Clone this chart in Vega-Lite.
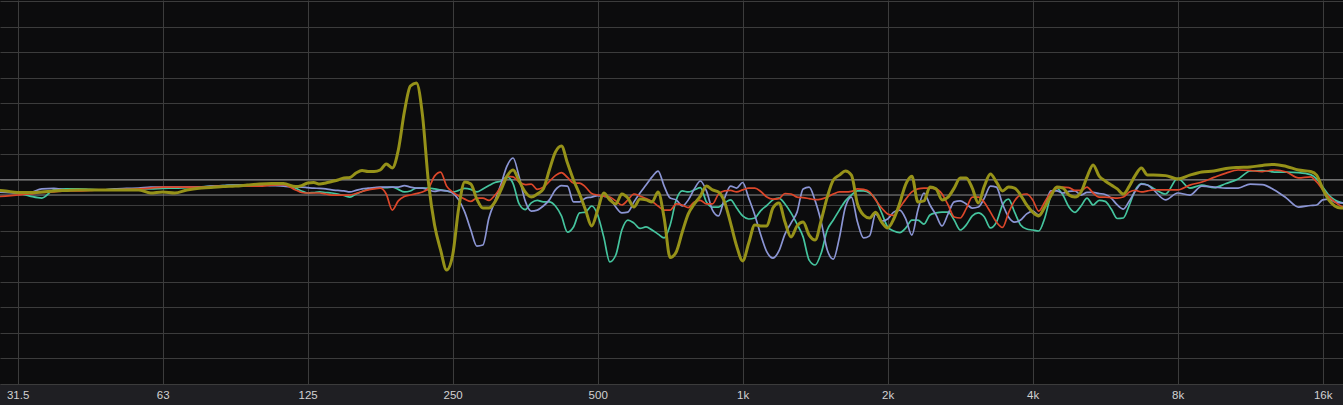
{
  "$schema": "https://vega.github.io/schema/vega-lite/v6.json",
  "width": 1343,
  "height": 384,
  "autosize": {"type": "none"},
  "padding": {"top": 0, "left": 0, "right": 0, "bottom": 21},
  "background": "#1f1f23",
  "config": {"view": {"fill": "#0c0c0d", "stroke": null}},
  "datasets": {
    "refs": [{"level": 0}, {"level": -6}],
    "resp": [
      {"f":27.84,"red":-6.8,"teal":-4.8,"blue":-4.8,"olive":-4.0},
      {"f":29.5,"red":-6.4,"teal":-4.8,"blue":-5.0,"olive":-4.4},
      {"f":31.25,"red":-6.0,"teal":-5.2,"blue":-5.2,"olive":-5.0},
      {"f":33.11,"red":-5.6,"teal":-6.4,"blue":-5.0,"olive":-5.0},
      {"f":35.08,"red":-5.0,"teal":-7.2,"blue":-3.6,"olive":-4.8},
      {"f":37.16,"red":-4.8,"teal":-4.0,"blue":-3.4,"olive":-4.4},
      {"f":39.37,"red":-4.4,"teal":-3.6,"blue":-4.0,"olive":-4.2},
      {"f":41.71,"red":-4.4,"teal":-3.6,"blue":-4.0,"olive":-4.0},
      {"f":44.19,"red":-4.2,"teal":-3.8,"blue":-4.0,"olive":-4.0},
      {"f":46.82,"red":-4.0,"teal":-4.0,"blue":-4.0,"olive":-4.0},
      {"f":49.61,"red":-4.0,"teal":-3.8,"blue":-3.6,"olive":-4.0},
      {"f":52.56,"red":-3.8,"teal":-3.6,"blue":-3.4,"olive":-4.0},
      {"f":55.68,"red":-3.6,"teal":-3.6,"blue":-3.3,"olive":-4.0},
      {"f":58.99,"red":-3.3,"teal":-3.6,"blue":-2.9,"olive":-5.2},
      {"f":62.5,"red":-2.9,"teal":-3.4,"blue":-2.9,"olive":-4.8},
      {"f":66.22,"red":-2.9,"teal":-3.3,"blue":-2.9,"olive":-5.2},
      {"f":70.16,"red":-2.9,"teal":-3.1,"blue":-2.9,"olive":-4.0},
      {"f":74.33,"red":-2.9,"teal":-2.9,"blue":-2.9,"olive":-3.3},
      {"f":78.74,"red":-2.7,"teal":-2.5,"blue":-2.5,"olive":-3.1},
      {"f":83.43,"red":-2.5,"teal":-2.3,"blue":-2.3,"olive":-2.7},
      {"f":88.39,"red":-2.5,"teal":-2.1,"blue":-2.1,"olive":-2.5},
      {"f":93.64,"red":-2.5,"teal":-2.1,"blue":-2.1,"olive":-2.1},
      {"f":99.21,"red":-2.5,"teal":-2.1,"blue":-2.1,"olive":-1.7},
      {"f":105.11,"red":-2.1,"teal":-1.9,"blue":-2.3,"olive":-1.5},
      {"f":111.36,"red":-1.9,"teal":-1.7,"blue":-2.5,"olive":-1.5},
      {"f":117.98,"red":-4.0,"teal":-3.3,"blue":-2.9,"olive":-2.7},
      {"f":121.44,"red":-5.0,"teal":-4.4,"blue":-2.9,"olive":-2.3},
      {"f":125,"red":-5.2,"teal":-5.2,"blue":-3.1,"olive":-1.3},
      {"f":128.66,"red":-5.2,"teal":-5.0,"blue":-3.3,"olive":-1.1},
      {"f":132.44,"red":-5.2,"teal":-4.8,"blue":-3.4,"olive":-1.7},
      {"f":136.31,"red":-5.6,"teal":-5.0,"blue":-3.6,"olive":-1.3},
      {"f":140.31,"red":-6.0,"teal":-5.2,"blue":-4.0,"olive":-0.7},
      {"f":144.43,"red":-6.0,"teal":-5.6,"blue":-4.2,"olive":-0.1},
      {"f":148.65,"red":-6.0,"teal":-6.2,"blue":-4.4,"olive":0.7},
      {"f":153.01,"red":-6.0,"teal":-6.8,"blue":-4.8,"olive":0.9},
      {"f":157.49,"red":-5.4,"teal":-5.6,"blue":-4.2,"olive":2.6},
      {"f":162.1,"red":-4.6,"teal":-4.6,"blue":-3.6,"olive":3.6},
      {"f":166.85,"red":-4.0,"teal":-3.8,"blue":-3.3,"olive":3.2},
      {"f":171.75,"red":-3.6,"teal":-3.3,"blue":-3.1,"olive":3.2},
      {"f":176.78,"red":-3.3,"teal":-3.1,"blue":-2.9,"olive":3.8},
      {"f":181.96,"red":-5.6,"teal":-3.1,"blue":-2.9,"olive":6.2},
      {"f":187.29,"red":-11.9,"teal":-2.9,"blue":-2.9,"olive":4.6},
      {"f":192.78,"red":-8.3,"teal":-3.8,"blue":-2.9,"olive":11.6},
      {"f":198.43,"red":-6.6,"teal":-4.8,"blue":-2.3,"olive":26.5},
      {"f":204.24,"red":-6.0,"teal":-4.4,"blue":-2.9,"olive":36.7},
      {"f":210.23,"red":-5.4,"teal":-3.3,"blue":-3.3,"olive":37.9},
      {"f":216.39,"red":-4.8,"teal":-3.3,"blue":-3.3,"olive":25.3},
      {"f":222.73,"red":-3.3,"teal":-3.3,"blue":-4.0,"olive":-1.3},
      {"f":229.25,"red":1.4,"teal":-3.6,"blue":-4.6,"olive":-17.7},
      {"f":235.96,"red":3.0,"teal":-4.0,"blue":-4.2,"olive":-27.5},
      {"f":242.89,"red":-2.5,"teal":-4.4,"blue":-4.4,"olive":-35.4},
      {"f":250,"red":-4.8,"teal":-4.8,"blue":-5.2,"olive":-29.5},
      {"f":257.33,"red":-6.4,"teal":-4.2,"blue":-7.9,"olive":-11.1},
      {"f":264.88,"red":-7.6,"teal":-3.4,"blue":-12.7,"olive":-0.9},
      {"f":272.63,"red":-8.5,"teal":-3.8,"blue":-19.7,"olive":-1.7},
      {"f":280.63,"red":-7.2,"teal":-4.8,"blue":-26.0,"olive":-7.6},
      {"f":288.85,"red":-7.2,"teal":-3.6,"blue":-25.6,"olive":-11.1},
      {"f":297.3,"red":-8.1,"teal":-2.3,"blue":-15.0,"olive":-11.1},
      {"f":306.03,"red":-6.0,"teal":-1.1,"blue":-8.3,"olive":-8.7},
      {"f":314.98,"red":-2.7,"teal":-0.5,"blue":-1.7,"olive":-4.0},
      {"f":324.2,"red":1.3,"teal":1.1,"blue":5.4,"olive":1.4},
      {"f":333.7,"red":1.1,"teal":-1.5,"blue":8.5,"olive":3.8},
      {"f":343.5,"red":-0.9,"teal":-9.5,"blue":1.1,"olive":-0.5},
      {"f":353.55,"red":-1.9,"teal":-11.7,"blue":-8.3,"olive":-4.8},
      {"f":363.93,"red":-1.7,"teal":-9.1,"blue":-12.3,"olive":-6.8},
      {"f":374.58,"red":-3.8,"teal":-8.1,"blue":-11.9,"olive":-5.6},
      {"f":385.55,"red":-2.9,"teal":-8.7,"blue":-10.3,"olive":-3.6},
      {"f":396.85,"red":-0.7,"teal":-8.7,"blue":-7.9,"olive":3.8},
      {"f":408.48,"red":1.6,"teal":-10.3,"blue":-4.0,"olive":10.8},
      {"f":420.45,"red":2.8,"teal":-14.2,"blue":-2.3,"olive":13.2},
      {"f":432.78,"red":0.9,"teal":-20.5,"blue":-2.5,"olive":6.5},
      {"f":445.45,"red":-1.3,"teal":-18.5,"blue":-8.7,"olive":-0.1},
      {"f":458.5,"red":-1.3,"teal":-13.0,"blue":-8.7,"olive":-5.6},
      {"f":471.93,"red":-2.9,"teal":-12.7,"blue":-7.2,"olive":-11.9},
      {"f":485.78,"red":-5.4,"teal":-10.3,"blue":-6.8,"olive":-18.1},
      {"f":500,"red":-6.0,"teal":-13.8,"blue":-6.2,"olive":-11.9},
      {"f":514.65,"red":-6.4,"teal":-22.4,"blue":-6.4,"olive":-5.2},
      {"f":529.75,"red":-6.8,"teal":-32.2,"blue":-7.2,"olive":-7.9},
      {"f":545.25,"red":-8.3,"teal":-29.5,"blue":-10.7,"olive":-9.5},
      {"f":561.25,"red":-9.9,"teal":-19.7,"blue":-13.0,"olive":-5.6},
      {"f":577.7,"red":-7.9,"teal":-15.8,"blue":-12.7,"olive":-7.2},
      {"f":594.6,"red":-5.6,"teal":-17.0,"blue":-8.7,"olive":-10.7},
      {"f":612.05,"red":-6.4,"teal":-19.1,"blue":-5.2,"olive":-7.6},
      {"f":629.95,"red":-7.4,"teal":-18.5,"blue":-2.1,"olive":-7.9},
      {"f":648.4,"red":-8.5,"teal":-19.7,"blue":1.1,"olive":-8.7},
      {"f":667.4,"red":-10.3,"teal":-21.3,"blue":3.4,"olive":-4.8},
      {"f":687.0,"red":-11.9,"teal":-22.8,"blue":-2.5,"olive":-15.0},
      {"f":707.1,"red":-11.9,"teal":-17.7,"blue":-7.2,"olive":-30.5},
      {"f":727.85,"red":-9.5,"teal":-7.9,"blue":-7.9,"olive":-28.3},
      {"f":749.15,"red":-9.9,"teal":-4.4,"blue":-10.3,"olive":-20.5},
      {"f":771.1,"red":-10.9,"teal":-4.8,"blue":-7.9,"olive":-13.4},
      {"f":793.7,"red":-8.7,"teal":-4.0,"blue":-3.6,"olive":-9.5},
      {"f":817.0,"red":-8.1,"teal":-3.1,"blue":-0.5,"olive":-6.4},
      {"f":840.9,"red":-9.5,"teal":-8.7,"blue":-4.4,"olive":-2.5},
      {"f":865.5,"red":-9.5,"teal":-10.7,"blue":-11.9,"olive":-4.0},
      {"f":890.9,"red":-5.6,"teal":-10.7,"blue":-14.2,"olive":-4.8},
      {"f":917.0,"red":-4.4,"teal":-9.1,"blue":-7.2,"olive":-8.7},
      {"f":943.85,"red":-4.2,"teal":-7.9,"blue":-2.5,"olive":-17.0},
      {"f":971.55,"red":-4.8,"teal":-11.1,"blue":-3.3,"olive":-26.0},
      {"f":1000,"red":-4.0,"teal":-14.2,"blue":-1.1,"olive":-31.8},
      {"f":1029.3,"red":-3.3,"teal":-15.4,"blue":-7.2,"olive":-24.8},
      {"f":1059.5,"red":-3.3,"teal":-15.0,"blue":-13.8,"olive":-17.7},
      {"f":1090.5,"red":-4.6,"teal":-12.1,"blue":-21.7,"olive":-18.1},
      {"f":1122.5,"red":-6.8,"teal":-10.1,"blue":-28.3,"olive":-18.1},
      {"f":1155.4,"red":-7.6,"teal":-7.9,"blue":-30.7,"olive":-11.1},
      {"f":1189.2,"red":-7.4,"teal":-7.2,"blue":-27.9,"olive":-9.1},
      {"f":1224.1,"red":-5.4,"teal":-9.5,"blue":-21.3,"olive":-16.6},
      {"f":1259.9,"red":-5.6,"teal":-13.0,"blue":-17.0,"olive":-22.4},
      {"f":1296.8,"red":-6.8,"teal":-17.4,"blue":-12.7,"olive":-18.1},
      {"f":1334.8,"red":-7.0,"teal":-22.4,"blue":-3.6,"olive":-16.6},
      {"f":1374.0,"red":-7.4,"teal":-31.5,"blue":-2.9,"olive":-21.7},
      {"f":1414.2,"red":-7.8,"teal":-33.4,"blue":-8.3,"olive":-23.6},
      {"f":1455.7,"red":-7.6,"teal":-28.7,"blue":-16.6,"olive":-15.8},
      {"f":1498.3,"red":-6.8,"teal":-19.7,"blue":-27.5,"olive":-6.8},
      {"f":1542.2,"red":-5.6,"teal":-15.8,"blue":-31.1,"olive":-0.1},
      {"f":1587.4,"red":-4.8,"teal":-11.9,"blue":-22.8,"olive":1.8},
      {"f":1633.9,"red":-4.8,"teal":-8.3,"blue":-10.7,"olive":3.4},
      {"f":1681.8,"red":-4.6,"teal":-6.0,"blue":-6.8,"olive":1.8},
      {"f":1731.1,"red":-3.6,"teal":-4.4,"blue":-16.6,"olive":-9.5},
      {"f":1781.8,"red":-3.8,"teal":-4.4,"blue":-22.8,"olive":-13.8},
      {"f":1834.0,"red":-4.8,"teal":-5.2,"blue":-22.0,"olive":-15.0},
      {"f":1887.7,"red":-7.9,"teal":-7.6,"blue":-13.4,"olive":-12.7},
      {"f":1943.1,"red":-11.1,"teal":-13.0,"blue":-16.2,"olive":-16.6},
      {"f":2000,"red":-13.4,"teal":-18.5,"blue":-15.4,"olive":-18.9},
      {"f":2058.6,"red":-14.0,"teal":-20.1,"blue":-12.7,"olive":-15.4},
      {"f":2119,"red":-10.9,"teal":-20.7,"blue":-11.9,"olive":-9.1},
      {"f":2181,"red":-7.6,"teal":-18.9,"blue":-15.4,"olive":-1.7},
      {"f":2245,"red":-4.8,"teal":-15.8,"blue":-21.7,"olive":1.4},
      {"f":2310.8,"red":-3.6,"teal":-15.8,"blue":-11.9,"olive":-8.7},
      {"f":2378.4,"red":-3.3,"teal":-17.4,"blue":-5.2,"olive":-8.3},
      {"f":2448.2,"red":-3.3,"teal":-13.8,"blue":-9.9,"olive":-2.9},
      {"f":2519.8,"red":-3.6,"teal":-13.0,"blue":-13.8,"olive":-3.6},
      {"f":2593.6,"red":-5.6,"teal":-12.7,"blue":-18.1,"olive":-7.9},
      {"f":2669.6,"red":-9.9,"teal":-12.7,"blue":-13.4,"olive":-6.8},
      {"f":2748,"red":-14.6,"teal":-15.8,"blue":-8.7,"olive":-3.3},
      {"f":2828.4,"red":-15.0,"teal":-19.7,"blue":-8.3,"olive":0.7},
      {"f":2911.4,"red":-11.3,"teal":-17.7,"blue":-9.5,"olive":0.7},
      {"f":2996.6,"red":-6.8,"teal":-14.2,"blue":-11.1,"olive":-3.3},
      {"f":3084.4,"red":-6.8,"teal":-13.0,"blue":-10.7,"olive":-9.1},
      {"f":3174.8,"red":-8.9,"teal":-14.6,"blue":-7.2,"olive":-2.5},
      {"f":3268,"red":-12.7,"teal":-18.9,"blue":-2.5,"olive":2.2},
      {"f":3363.6,"red":-16.6,"teal":-16.6,"blue":-2.9,"olive":-0.9},
      {"f":3462.2,"red":-18.7,"teal":-9.9,"blue":-9.5,"olive":-4.4},
      {"f":3563.6,"red":-13.0,"teal":-7.6,"blue":-14.6,"olive":-2.9},
      {"f":3668,"red":-8.3,"teal":-12.7,"blue":-16.6,"olive":-3.3},
      {"f":3775.4,"red":-6.0,"teal":-17.7,"blue":-15.8,"olive":-6.0},
      {"f":3886.2,"red":-5.6,"teal":-19.3,"blue":-13.4,"olive":-9.9},
      {"f":4000,"red":-7.9,"teal":-19.7,"blue":-12.3,"olive":-12.7},
      {"f":4117.2,"red":-12.3,"teal":-20.1,"blue":-13.8,"olive":-14.2},
      {"f":4238,"red":-8.7,"teal":-15.0,"blue":-10.7,"olive":-10.7},
      {"f":4362,"red":-5.0,"teal":-6.4,"blue":-4.4,"olive":-6.4},
      {"f":4490,"red":-3.3,"teal":-3.4,"blue":-4.4,"olive":-2.9},
      {"f":4621.6,"red":-2.9,"teal":-6.0,"blue":-5.2,"olive":-3.3},
      {"f":4756.8,"red":-3.1,"teal":-10.7,"blue":-4.6,"olive":-6.0},
      {"f":4896.4,"red":-4.2,"teal":-12.8,"blue":-4.4,"olive":-6.8},
      {"f":5039.6,"red":-4.2,"teal":-10.3,"blue":-6.0,"olive":-4.8},
      {"f":5187.2,"red":-2.9,"teal":-7.2,"blue":-5.0,"olive":1.1},
      {"f":5339.2,"red":-5.2,"teal":-9.9,"blue":-5.0,"olive":5.8},
      {"f":5496,"red":-6.8,"teal":-8.1,"blue":-5.4,"olive":1.4},
      {"f":5656.8,"red":-6.8,"teal":-8.5,"blue":-5.8,"olive":-0.5},
      {"f":5822.8,"red":-7.0,"teal":-11.5,"blue":-7.2,"olive":-2.1},
      {"f":5993.2,"red":-7.2,"teal":-15.2,"blue":-9.9,"olive":-3.6},
      {"f":6168.8,"red":-6.8,"teal":-15.0,"blue":-11.5,"olive":-5.6},
      {"f":6349.6,"red":-4.8,"teal":-9.9,"blue":-8.3,"olive":-2.5},
      {"f":6535.6,"red":-4.2,"teal":-4.0,"blue":-4.4,"olive":1.8},
      {"f":6727.2,"red":-4.8,"teal":-1.5,"blue":-1.7,"olive":4.6},
      {"f":6924.4,"red":-4.4,"teal":-2.1,"blue":-2.1,"olive":1.8},
      {"f":7127.2,"red":-4.0,"teal":-3.4,"blue":-4.0,"olive":1.8},
      {"f":7550.8,"red":-4.0,"teal":-5.6,"blue":-7.9,"olive":1.6},
      {"f":8000,"red":-4.0,"teal":0.5,"blue":-5.2,"olive":0.3},
      {"f":8476.8,"red":-2.1,"teal":-3.3,"blue":-6.0,"olive":1.8},
      {"f":8979.2,"red":-0.9,"teal":-2.1,"blue":-2.5,"olive":3.0},
      {"f":9513.6,"red":0.9,"teal":-3.1,"blue":-2.9,"olive":3.4},
      {"f":10079,"red":2.6,"teal":-1.5,"blue":-3.3,"olive":4.4},
      {"f":10680,"red":3.8,"teal":0.3,"blue":-3.3,"olive":4.8},
      {"f":11314,"red":3.6,"teal":3.4,"blue":-1.7,"olive":5.0},
      {"f":11986,"red":3.2,"teal":3.6,"blue":-1.9,"olive":5.6},
      {"f":12699,"red":3.8,"teal":3.0,"blue":-4.0,"olive":6.0},
      {"f":13454,"red":3.0,"teal":3.0,"blue":-7.2,"olive":5.2},
      {"f":14254,"red":0.7,"teal":2.8,"blue":-10.7,"olive":3.8},
      {"f":15102,"red":1.1,"teal":2.0,"blue":-10.1,"olive":3.2},
      {"f":15545,"red":-0.9,"teal":0.3,"blue":-9.9,"olive":1.8},
      {"f":16000,"red":-3.8,"teal":-2.9,"blue":-7.9,"olive":-3.6},
      {"f":16469,"red":-6.6,"teal":-6.0,"blue":-7.6,"olive":-7.9},
      {"f":16952,"red":-8.7,"teal":-7.9,"blue":-8.7,"olive":-10.3},
      {"f":17450,"red":-10.3,"teal":-8.9,"blue":-9.1,"olive":-11.1},
      {"f":17962,"red":-11.1,"teal":-9.3,"blue":-9.1,"olive":-11.1}
    ]
  },
  "layer": [
    {
      "data": {"name": "refs"},
      "mark": {"type": "rule", "color": "#8c8c8c", "strokeWidth": 1},
      "encoding": {
        "y": {
          "field": "level", "type": "quantitative",
          "scale": {"domain": [-80.02, 70.39], "nice": false, "zero": false},
          "axis": {"values": [-80,-70,-60,-50,-40,-30,-20,-10,0,10,20,30,40,50,60,70], "labels": false, "ticks": false, "domain": false, "grid": true, "gridColor": "#3c3c3c", "gridWidth": 1, "title": null}
        }
      }
    },
    {
      "data": {"name": "resp"},
      "mark": {"type": "line", "color": "#45c49e", "strokeWidth": 1.7, "interpolate": "monotone", "clip": true},
      "encoding": {
        "x": {
          "field": "f", "type": "quantitative",
          "scale": {"type": "log", "domain": [28.72, 17630], "nice": false},
          "axis": {"values": [31.25,62.5,125,250,500,1000,2000,4000,8000,16000],
                   "labelExpr": "datum.value == 31.25 ? '31.5' : datum.value == 62.5 ? '63' : datum.value >= 1000 ? (datum.value/1000) + 'k' : '' + datum.value",
                   "title": null, "grid": true, "gridColor": "#3c3c3c", "gridWidth": 1, "ticks": false, "domain": false,
                   "labelColor": "#d2d2d2", "labelFontSize": 11.5, "labelFont": "Liberation Sans", "labelPadding": 5,
                   "labelFlush": false, "labelOverlap": false, "labelBound": false}
        },
        "y": {"field": "teal", "type": "quantitative",
              "axis": {"values": [-80,-70,-60,-50,-40,-30,-20,-10,0,10,20,30,40,50,60,70], "labels": false, "ticks": false, "domain": false, "grid": true, "gridColor": "#3c3c3c", "gridWidth": 1, "title": null}}
      }
    },
    {
      "data": {"name": "resp"},
      "mark": {"type": "line", "color": "#8b95d4", "strokeWidth": 1.7, "interpolate": "monotone", "clip": true},
      "encoding": {
        "x": {"field": "f", "type": "quantitative"},
        "y": {"field": "blue", "type": "quantitative",
              "axis": {"values": [-80,-70,-60,-50,-40,-30,-20,-10,0,10,20,30,40,50,60,70], "labels": false, "ticks": false, "domain": false, "grid": true, "gridColor": "#3c3c3c", "gridWidth": 1, "title": null}}
      }
    },
    {
      "data": {"name": "resp"},
      "mark": {"type": "line", "color": "#dc472a", "strokeWidth": 1.7, "interpolate": "monotone", "clip": true},
      "encoding": {
        "x": {"field": "f", "type": "quantitative"},
        "y": {"field": "red", "type": "quantitative",
              "axis": {"values": [-80,-70,-60,-50,-40,-30,-20,-10,0,10,20,30,40,50,60,70], "labels": false, "ticks": false, "domain": false, "grid": true, "gridColor": "#3c3c3c", "gridWidth": 1, "title": null}}
      }
    },
    {
      "data": {"name": "resp"},
      "mark": {"type": "line", "color": "#969219", "strokeWidth": 3, "interpolate": "monotone", "clip": true},
      "encoding": {
        "x": {"field": "f", "type": "quantitative"},
        "y": {"field": "olive", "type": "quantitative",
              "axis": {"values": [-80,-70,-60,-50,-40,-30,-20,-10,0,10,20,30,40,50,60,70], "labels": false, "ticks": false, "domain": false, "grid": true, "gridColor": "#3c3c3c", "gridWidth": 1, "title": null}}
      }
    }
  ]
}
